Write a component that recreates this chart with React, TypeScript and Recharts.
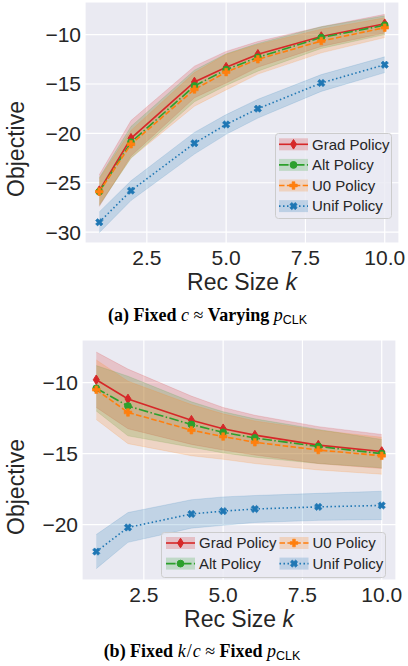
import React from "react";
import {
  ComposedChart,
  Line,
  Area,
  XAxis,
  YAxis,
  CartesianGrid,
  Legend,
  Label,
} from "recharts";

const recSizes = [1, 2, 4, 5, 6, 8, 10];
const xTicks = [2.5, 5, 7.5, 10];

// (a) fixed c
const gradA = [-25.8, -20.5, -14.8, -13.3, -12.0, -10.2, -8.9];
const gradStdA = [1.6, 1.8, 1.6, 1.6, 1.3, 1.0, 0.95];
const altA = [-25.9, -20.9, -15.2, -13.55, -12.3, -10.3, -9.05];
const altStdA = [1.4, 1.6, 1.6, 1.6, 1.4, 1.1, 0.95];
const u0A = [-25.9, -21.1, -15.55, -13.8, -12.5, -10.65, -9.3];
const u0StdA = [1.3, 1.4, 1.7, 1.8, 1.5, 1.2, 1.0];
const unifA = [-29.0, -25.8, -21.0, -19.1, -17.5, -14.9, -13.05];
const unifStdA = [1.05, 1.0, 1.1, 1.0, 0.95, 0.85, 0.8];
const yTicksA = [-30, -25, -20, -15, -10];

// (b) fixed k/c
const gradB = [-9.8, -11.15, -12.65, -13.25, -13.7, -14.4, -14.85];
const gradStdB = [1.95, 2.1, 1.7, 1.5, 1.4, 1.3, 1.2];
const altB = [-10.4, -11.65, -12.95, -13.5, -13.9, -14.5, -15.0];
const altStdB = [1.6, 2.1, 1.6, 1.45, 1.35, 1.2, 1.0];
const u0B = [-10.5, -12.1, -13.35, -13.8, -14.2, -14.75, -15.15];
const u0StdB = [2.1, 2.2, 1.8, 1.6, 1.5, 1.4, 1.3];
const unifB = [-21.9, -20.2, -19.25, -19.05, -18.9, -18.75, -18.65];
const unifStdB = [1.2, 1.05, 1.0, 1.0, 0.95, 0.95, 1.0];
const yTicksB = [-20, -15, -10];

const SANS = "'Liberation Sans', Arial, sans-serif";
const SERIF = "'Liberation Serif', 'Times New Roman', serif";

const policies = [
  { key: "grad", name: "Grad Policy", color: "#d62728", dash: undefined, shape: "diamond" },
  { key: "alt", name: "Alt Policy", color: "#2ca02c", dash: "9.6 2.4 1.5 2.4", shape: "circle" },
  { key: "u0", name: "U0 Policy", color: "#ff7f0e", dash: "5.5 2.4", shape: "plus" },
  { key: "unif", name: "Unif Policy", color: "#1f77b4", dash: "1.5 2.5", shape: "x" },
];

function buildRows(series: Record<string, [number[], number[]]>) {
  return recSizes.map((k, i) => {
    const row: any = { k };
    Object.keys(series).forEach((key) => {
      const [m, s] = series[key];
      row[key] = m[i];
      row[key + "Band"] = [m[i] - s[i], m[i] + s[i]];
    });
    return row;
  });
}

const rowsA = buildRows({
  grad: [gradA, gradStdA],
  alt: [altA, altStdA],
  u0: [u0A, u0StdA],
  unif: [unifA, unifStdA],
});
const rowsB = buildRows({
  grad: [gradB, gradStdB],
  alt: [altB, altStdB],
  u0: [u0B, u0StdB],
  unif: [unifB, unifStdB],
});

function Marker({ shape, cx, cy, color }: any) {
  if (cx == null || cy == null) return null;
  if (shape === "diamond") {
    return (
      <polygon
        points={`${cx},${cy - 4.8} ${cx + 3},${cy} ${cx},${cy + 4.8} ${cx - 3},${cy}`}
        fill={color}
        stroke={color}
        strokeWidth={1}
      />
    );
  }
  if (shape === "circle") {
    return <circle cx={cx} cy={cy} r={3.4} fill={color} stroke={color} strokeWidth={1} />;
  }
  const a = 3.8;
  const t = 1.4;
  const pts = [
    [-t, -a], [t, -a], [t, -t], [a, -t], [a, t], [t, t],
    [t, a], [-t, a], [-t, t], [-a, t], [-a, -t], [-t, -t],
  ]
    .map(([x, y]) => `${cx + x},${cy + y}`)
    .join(" ");
  return (
    <polygon
      points={pts}
      fill={color}
      stroke={color}
      strokeWidth={0.6}
      transform={shape === "x" ? `rotate(45 ${cx} ${cy})` : undefined}
    />
  );
}

function Handle({ p, x, y }: any) {
  return (
    <g>
      <rect x={x} y={y - 6} width={29} height={12} fill={p.color} fillOpacity={0.22} />
      <line
        x1={x}
        x2={x + 29}
        y1={y}
        y2={y}
        stroke={p.color}
        strokeWidth={1.6}
        strokeDasharray={p.dash}
      />
      <Marker shape={p.shape} cx={x + 14.5} cy={y} color={p.color} />
    </g>
  );
}

function LegendBox({ width, height, items }: any) {
  return (
    <svg width={width} height={height} style={{ display: "block" }}>
      <rect
        x={0.5}
        y={0.5}
        width={width - 1}
        height={height - 1}
        rx={3}
        fill="#eaeaf2"
        fillOpacity={0.8}
        stroke="#cccccc"
      />
      {items.map((it: any) => (
        <g key={it.p.key}>
          <Handle p={it.p} x={it.x} y={it.y} />
          <text
            x={it.x + 33}
            y={it.y + 5.3}
            fontSize={15}
            fontFamily={SANS}
            fill="#262626"
          >
            {it.p.name}
          </text>
        </g>
      ))}
    </svg>
  );
}

const fmtY = (v: number) => (v < 0 ? "\u2212" + Math.abs(v) : String(v));

function Panel({ rows, height, yDomain, yTicks, margin, yWidth, xHeight, yLabelY, xLabelDy, legend }: any) {
  return (
    <ComposedChart width={408} height={height} data={rows} margin={margin}>
      <CartesianGrid fill="#eaeaf2" stroke="#ffffff" strokeWidth={1.2} />
      <XAxis
        dataKey="k"
        type="number"
        domain={[0.55, 10.45]}
        ticks={xTicks}
        tickFormatter={(v: number) => v.toFixed(1)}
        axisLine={false}
        tickLine={false}
        tickSize={0}
        tickMargin={7}
        height={xHeight}
        allowDataOverflow
        tick={{ fill: "#262626", fontSize: 21, fontFamily: SANS }}
      >
        <Label
          content={({ viewBox }: any) => (
            <text
              x={viewBox.x + viewBox.width / 2}
              y={viewBox.y + xLabelDy}
              textAnchor="middle"
              fontSize={23}
              fontFamily={SANS}
              fill="#262626"
            >
              Rec Size <tspan fontStyle="italic">k</tspan>
            </text>
          )}
        />
      </XAxis>
      <YAxis
        type="number"
        domain={yDomain}
        ticks={yTicks}
        tickFormatter={fmtY}
        axisLine={false}
        tickLine={false}
        tickSize={0}
        tickMargin={4}
        width={yWidth}
        allowDataOverflow
        tick={{ fill: "#262626", fontSize: 21, fontFamily: SANS }}
      >
        <Label
          content={() => (
            <text
              x={24}
              y={yLabelY}
              transform={`rotate(-90 24 ${yLabelY})`}
              textAnchor="middle"
              fontSize={23}
              fontFamily={SANS}
              fill="#262626"
            >
              Objective
            </text>
          )}
        />
      </YAxis>
      {policies.map((p) => (
        <Area
          key={p.key + "Band"}
          dataKey={p.key + "Band"}
          type="linear"
          fill={p.color}
          fillOpacity={0.2}
          stroke={p.color}
          strokeOpacity={0.15}
          strokeWidth={1}
          isAnimationActive={false}
          activeDot={false}
          dot={false}
          legendType="none"
        />
      ))}
      {policies.map((p) => (
        <Line
          key={p.key}
          dataKey={p.key}
          name={p.name}
          type="linear"
          stroke={p.color}
          strokeWidth={1.6}
          strokeDasharray={p.dash}
          isAnimationActive={false}
          activeDot={false}
          dot={(d: any) => (
            <Marker key={p.key + d.index} shape={p.shape} cx={d.cx} cy={d.cy} color={p.color} />
          )}
        />
      ))}
      <Legend
        layout="horizontal"
        verticalAlign="middle"
        align="center"
        wrapperStyle={{
          left: legend.left,
          top: legend.top,
          width: legend.width,
          height: legend.height,
        }}
        content={() => (
          <LegendBox width={legend.width} height={legend.height} items={legend.items} />
        )}
      />
    </ComposedChart>
  );
}

function Caption({ y, cx, parts }: any) {
  return (
    <svg
      width={408}
      height={30}
      style={{ position: "absolute", left: 0, top: y - 22, display: "block" }}
    >
      <text x={cx} y={22} textAnchor="middle" fontSize={18} fontFamily={SERIF} fill="#000">
        {parts}
      </text>
    </svg>
  );
}

export default function App() {
  const legendA = {
    left: 275,
    top: 133,
    width: 117,
    height: 86,
    items: policies.map((p, i) => ({ p, x: 4, y: 11.3 + i * 20.6 })),
  };
  const legendB = {
    left: 161,
    top: 202,
    width: 225,
    height: 46,
    items: [
      { p: policies[0], x: 5, y: 11 },
      { p: policies[1], x: 5, y: 31.6 },
      { p: policies[2], x: 118.5, y: 11 },
      { p: policies[3], x: 118.5, y: 31.6 },
    ],
  };
  return (
    <div style={{ position: "absolute", left: 0, top: 0, width: 408, height: 666, background: "#fff" }}>
      <div style={{ position: "absolute", left: 0, top: 0 }}>
        <Panel
          rows={rowsA}
          height={300}
          yDomain={[-31.1, -6.7]}
          yTicks={yTicksA}
          margin={{ top: 2, right: 9, left: 0, bottom: 0 }}
          yWidth={85}
          xHeight={57}
          yLabelY={149}
          xLabelDy={47}
          legend={legendA}
        />
      </div>
      <Caption
        y={321}
        cx={207.5}
        parts={
          <>
            <tspan fontWeight="bold">{"(a) Fixed\u00a0"}</tspan>
            <tspan fontStyle="italic">c</tspan>
            <tspan>{"\u00a0\u2248\u00a0"}</tspan>
            <tspan fontWeight="bold">{"Varying\u00a0"}</tspan>
            <tspan fontStyle="italic">p</tspan>
            <tspan fontFamily={SANS} fontSize={12.5} dy={3}>CLK</tspan>
          </>
        }
      />
      <div style={{ position: "absolute", left: 0, top: 330 }}>
        <Panel
          rows={rowsB}
          height={306}
          yDomain={[-23.9, -7.0]}
          yTicks={yTicksB}
          margin={{ top: 10, right: 12, left: 0, bottom: 0 }}
          yWidth={82}
          xHeight={56}
          yLabelY={157}
          xLabelDy={47}
          legend={legendB}
        />
      </div>
      <Caption
        y={657}
        cx={202}
        parts={
          <>
            <tspan fontWeight="bold">{"(b) Fixed\u00a0"}</tspan>
            <tspan fontStyle="italic">k</tspan>
            <tspan dx={1}>/</tspan>
            <tspan fontStyle="italic" dx={1}>c</tspan>
            <tspan>{"\u00a0\u2248\u00a0"}</tspan>
            <tspan fontWeight="bold">{"Fixed\u00a0"}</tspan>
            <tspan fontStyle="italic">p</tspan>
            <tspan fontFamily={SANS} fontSize={12.5} dy={3}>CLK</tspan>
          </>
        }
      />
    </div>
  );
}
